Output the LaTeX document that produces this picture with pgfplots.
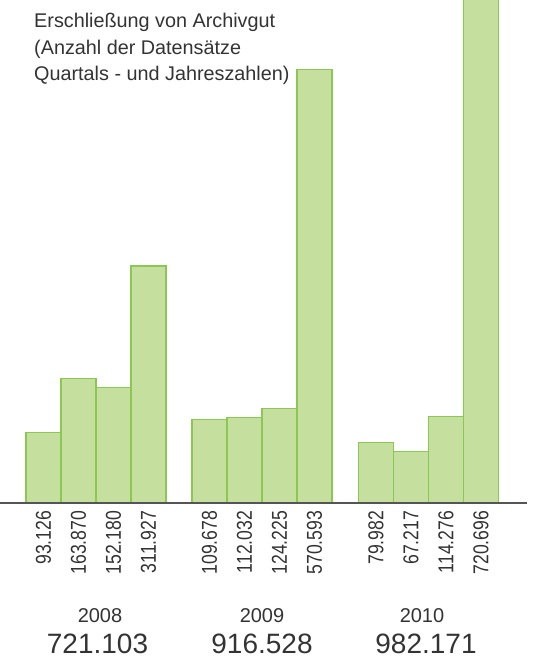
\documentclass[border=0pt]{standalone}
\usepackage{pgfplots}
\pgfplotsset{compat=1.18}
\usepackage{fontspec}
\setmainfont{Liberation Sans}
\definecolor{barfill}{HTML}{C5E09E}
\definecolor{baredge}{HTML}{8CC653}
\definecolor{txt}{HTML}{333333}
\definecolor{axisgray}{HTML}{555555}
\begin{document}
\begin{tikzpicture}[x=1pt,y=1pt]
\useasboundingbox (0,-158) rectangle (534,503);
\begin{axis}[
  at={(0,0)}, anchor=south west,
  width=534pt, height=503pt, scale only axis,
  xmin=0, xmax=534, ymin=0, ymax=662,
  axis lines=none, clip=false,
]
\addplot[ybar, bar width=35, fill=barfill, draw=baredge, line width=1.1pt] coordinates {
  (43.5,93.126) (78.5,163.870) (113.5,152.180) (148.5,311.927)
  (209.5,109.678) (244.5,112.032) (279.5,124.225) (314.5,570.593)
  (376,79.982) (411,67.217) (446,114.276) (481,720.696)
};
\addplot[draw=none, mark=none,
  nodes near coords={\scalebox{0.82}[1]{\pgfplotspointmeta}},
  point meta=explicit symbolic,
  nodes near coords style={yshift=-7pt, rotate=90, anchor=east, inner sep=0.5pt,
    font=\fontsize{21.5}{23}\selectfont, text=txt}]
coordinates {
  (43.5,0)[93.126] (78.5,0)[163.870] (113.5,0)[152.180] (148.5,0)[311.927]
  (209.5,0)[109.678] (244.5,0)[112.032] (279.5,0)[124.225] (314.5,0)[570.593]
  (376,0)[79.982] (411,0)[67.217] (446,0)[114.276] (481,0)[720.696]
};
\draw[axisgray, line width=1.4pt] (axis cs:0,0) -- (axis cs:527,0);
\end{axis}
\begin{scope}[every node/.style={text=txt, inner sep=0pt, font=\fontsize{19.8}{22}\selectfont}]
\node[anchor=base west] at (34,475) {Erschließung von Archivgut};
\node[anchor=base west] at (34,448.5) {(Anzahl der Datensätze};
\node[anchor=base west] at (34,422) {Quartals - und Jahreszahlen)};
\end{scope}
\begin{scope}[every node/.style={text=txt, inner sep=0pt}]
\node[anchor=base, font=\fontsize{20}{22}\selectfont] at (100,-119) {2008};
\node[anchor=base, font=\fontsize{20}{22}\selectfont] at (262,-119) {2009};
\node[anchor=base, font=\fontsize{20}{22}\selectfont] at (422,-119) {2010};
\node[anchor=base, font=\fontsize{28}{30}\selectfont] at (97.5,-150) {721.103};
\node[anchor=base, font=\fontsize{28}{30}\selectfont] at (262,-150) {916.528};
\node[anchor=base, font=\fontsize{28}{30}\selectfont] at (426,-150) {982.171};
\end{scope}
\end{tikzpicture}
\end{document}
